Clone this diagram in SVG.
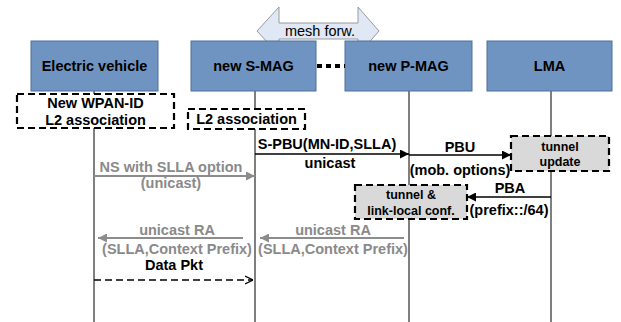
<svg xmlns="http://www.w3.org/2000/svg" width="621" height="322" viewBox="0 0 621 322">
<style>
text{font-family:"Liberation Sans",Arial,sans-serif;font-weight:bold;font-size:14.5px;text-anchor:middle}
.node{fill:#7094c2;stroke:#4f6f9c;stroke-width:1}
.life{stroke:#000;stroke-width:1;fill:none}
.dash{fill:#fff;stroke:#000;stroke-width:2.2;stroke-dasharray:7,4}
.gbox{fill:#d9d9d9;stroke:#000;stroke-width:2.2;stroke-dasharray:7,4}
.blk{stroke:#000;stroke-width:1.6;fill:none}
.gry{stroke:#8c8c8c;stroke-width:2;fill:none}
.g{fill:#8a8a8a}
.sm{font-size:12.5px}
</style>
<defs>
<marker id="ab" viewBox="0 0 10 10" refX="10" refY="5" markerWidth="10" markerHeight="9" markerUnits="userSpaceOnUse" orient="auto"><path d="M0,0 L10,5 L0,10 z" fill="#000"/></marker>
<marker id="ag" viewBox="0 0 10 10" refX="10" refY="5" markerWidth="10" markerHeight="9" markerUnits="userSpaceOnUse" orient="auto"><path d="M0,0 L10,5 L0,10 z" fill="#8c8c8c"/></marker>
<marker id="ao" viewBox="0 0 10 10" refX="10" refY="5" markerWidth="8" markerHeight="11" markerUnits="userSpaceOnUse" orient="auto"><path d="M0,0 L10,5 L0,10" fill="none" stroke="#000" stroke-width="1.5"/></marker>
</defs>

<g id="mesh-forw">
<path d="M257,31 L279,7 L279,23 L358,23 L358,7 L379,31 L358,55 L358,39 L279,39 L279,55 Z" fill="#dfe8f4" stroke="#9a9a9a" stroke-width="1"/>
<text x="320" y="36" style="font-weight:normal;font-size:14.5px">mesh forw.</text>
</g>

<g id="lifelines">
<line class="life" x1="94" y1="91" x2="94" y2="322"/>
<line class="life" x1="255" y1="91" x2="255" y2="322"/>
<line class="life" x1="409" y1="91" x2="409" y2="322"/>
<line class="life" x1="551" y1="91" x2="551" y2="322"/>
</g>

<g id="electric-vehicle"><rect class="node" x="31" y="41" width="127" height="50"/><text x="94.5" y="71">Electric vehicle</text></g>
<g id="new-s-mag"><rect class="node" x="191" y="41" width="125" height="50"/><text x="253.5" y="71">new S-MAG</text></g>
<g id="new-p-mag"><rect class="node" x="345" y="41" width="127" height="50"/><text x="408.5" y="71">new P-MAG</text></g>
<g id="lma"><rect class="node" x="487" y="41" width="125" height="50"/><text x="549.5" y="71">LMA</text></g>

<g id="wpan-assoc"><rect class="dash" x="17" y="94" width="157" height="34"/><text x="95.5" y="108">New WPAN-ID</text><text x="95.5" y="125">L2 association</text></g>
<g id="l2-assoc"><rect class="dash" x="188" y="109" width="117" height="20"/><text x="246.5" y="124">L2 association</text></g>
<g id="tunnel-update"><rect class="gbox" x="511" y="136" width="98" height="35"/><text class="sm" x="560" y="151">tunnel</text><text class="sm" x="560" y="166">update</text></g>
<g id="tunnel-conf"><rect class="gbox" x="355" y="185" width="112" height="34"/><text class="sm" x="411" y="199">tunnel &amp;</text><text class="sm" x="411" y="215">link-local conf.</text></g>

<g id="connectors">
<line x1="317" y1="66" x2="345" y2="66" stroke="#000" stroke-width="4" stroke-dasharray="5,4"/>
<line class="blk" x1="255" y1="154" x2="409" y2="154" marker-end="url(#ab)"/>
<line class="blk" x1="409" y1="155" x2="511" y2="155" marker-end="url(#ab)"/>
<line class="blk" x1="551" y1="197" x2="467" y2="197" marker-end="url(#ab)"/>
<line class="gry" x1="94" y1="176" x2="255" y2="176" marker-end="url(#ag)"/>
<line class="gry" x1="243" y1="238" x2="98" y2="238" marker-end="url(#ag)"/>
<line class="gry" x1="404" y1="238" x2="260" y2="238" marker-end="url(#ag)"/>
<line x1="94" y1="280" x2="253" y2="280" stroke="#000" stroke-width="1.4" stroke-dasharray="7,4" marker-end="url(#ao)"/>
</g>

<g id="labels">
<text x="327" y="149">S-PBU(MN-ID,SLLA)</text>
<text x="330" y="168">unicast</text>
<text x="460" y="152">PBU</text>
<text x="460" y="175">(mob. options)</text>
<text x="510" y="193">PBA</text>
<text x="509" y="215">(prefix::/64)</text>
<text class="g" x="171" y="172">NS with SLLA option</text>
<text class="g" x="171" y="188">(unicast)</text>
<text class="g" x="177" y="235">unicast RA</text>
<text class="g" x="177" y="254">(SLLA,Context Prefix)</text>
<text class="g" x="333" y="235">unicast RA</text>
<text class="g" x="333" y="254">(SLLA,Context Prefix)</text>
<text x="174" y="270">Data Pkt</text>
</g>
</svg>
